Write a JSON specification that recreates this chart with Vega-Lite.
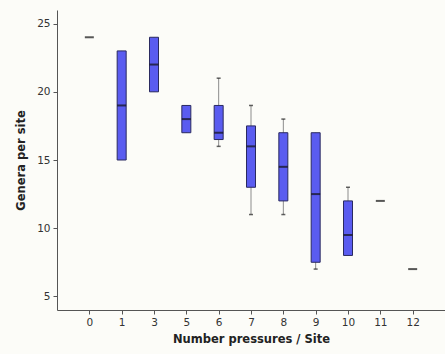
{
  "$schema": "https://vega.github.io/schema/vega-lite/v6.json",
  "autosize": "none",
  "width": 388,
  "height": 300,
  "padding": {"left": 57, "top": 10, "right": 0, "bottom": 44},
  "background": "#fcfcf8",
  "config": {
    "view": {"stroke": null},
    "font": "DejaVu Sans",
    "axis": {
      "domainColor": "#555555",
      "tickColor": "#555555",
      "labelColor": "#333333",
      "titleColor": "#222222",
      "labelFont": "DejaVu Sans",
      "titleFont": "DejaVu Sans",
      "labelFontSize": 10.5,
      "titleFontSize": 11.5,
      "titleFontWeight": "bold",
      "grid": false,
      "tickSize": 4
    }
  },
  "data": {
    "values": [
      {"p": 0, "lo": 24, "q1": 24, "med": 24, "q3": 24, "hi": 24},
      {"p": 1, "lo": 15, "q1": 15, "med": 19, "q3": 23, "hi": 23},
      {"p": 3, "lo": 20, "q1": 20, "med": 22, "q3": 24, "hi": 24},
      {"p": 5, "lo": 17, "q1": 17, "med": 18, "q3": 19, "hi": 19},
      {"p": 6, "lo": 16, "q1": 16.5, "med": 17, "q3": 19, "hi": 21},
      {"p": 7, "lo": 11, "q1": 13, "med": 16, "q3": 17.5, "hi": 19},
      {"p": 8, "lo": 11, "q1": 12, "med": 14.5, "q3": 17, "hi": 18},
      {"p": 9, "lo": 7, "q1": 7.5, "med": 12.5, "q3": 17, "hi": 17},
      {"p": 10, "lo": 8, "q1": 8, "med": 9.5, "q3": 12, "hi": 13},
      {"p": 11, "lo": 12, "q1": 12, "med": 12, "q3": 12, "hi": 12},
      {"p": 12, "lo": 7, "q1": 7, "med": 7, "q3": 7, "hi": 7}
    ]
  },
  "encoding": {
    "x": {
      "field": "p",
      "type": "ordinal",
      "scale": {"type": "point", "padding": 1.1},
      "axis": {"title": "Number pressures / Site", "labelAngle": 0, "labelPadding": 3, "titlePadding": 6}
    }
  },
  "layer": [
    {
      "transform": [{"filter": "datum.hi > datum.lo"}],
      "mark": {"type": "rule", "color": "#8c8c8c", "strokeWidth": 1},
      "encoding": {
        "y": {
          "field": "lo",
          "type": "quantitative",
          "scale": {"domain": [4, 26], "nice": false, "zero": false},
          "axis": {"title": "Genera per site", "values": [5, 10, 15, 20, 25], "labelPadding": 3, "titlePadding": 10}
        },
        "y2": {"field": "hi"}
      }
    },
    {
      "transform": [{"filter": "datum.lo < datum.q1"}],
      "mark": {"type": "tick", "color": "#222222", "size": 4, "thickness": 1.5},
      "encoding": {"y": {"field": "lo", "type": "quantitative"}}
    },
    {
      "transform": [{"filter": "datum.hi > datum.q3"}],
      "mark": {"type": "tick", "color": "#222222", "size": 4, "thickness": 1.5},
      "encoding": {"y": {"field": "hi", "type": "quantitative"}}
    },
    {
      "transform": [{"filter": "datum.q3 > datum.q1"}],
      "mark": {"type": "bar", "size": 9, "fill": "#5a5cf0", "stroke": "#2a2a60", "strokeWidth": 1},
      "encoding": {
        "y": {"field": "q1", "type": "quantitative"},
        "y2": {"field": "q3"}
      }
    },
    {
      "mark": {"type": "tick", "color": "#111111", "size": 9, "thickness": 2},
      "encoding": {"y": {"field": "med", "type": "quantitative"}}
    }
  ]
}
